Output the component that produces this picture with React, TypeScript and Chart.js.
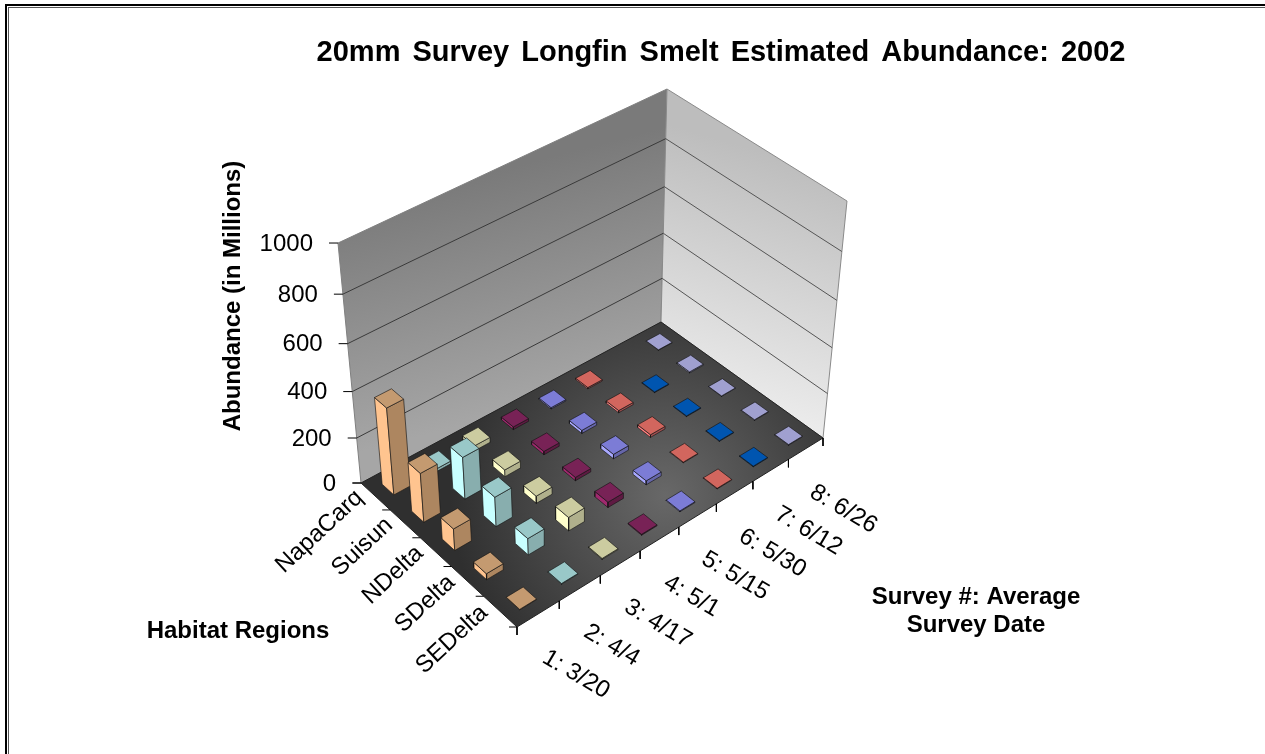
import React, { useEffect, useRef } from "react";
import Chart from "chart.js/auto";

const FONT = "'Liberation Sans', Arial, sans-serif";

const chartTitle = "20mm Survey Longfin Smelt Estimated Abundance: 2002";
const valueAxisTitle = "Abundance (in Millions)";
const regionAxisTitle = "Habitat Regions";
const surveyAxisTitle = ["Survey #: Average", "Survey Date"];

const valueTicks = [0, 200, 400, 600, 800, 1000];
const regions = ["NapaCarq", "Suisun", "NDelta", "SDelta", "SEDelta"];
const surveys = ["1: 3/20", "2: 4/4", "3: 4/17", "4: 5/1", "5: 5/15", "6: 5/30", "7: 6/12", "8: 6/26"];

// values per region, one entry per survey (millions); null = no bar
const napaCarq = [380, 12, 22, 12, 6, 6, null, 2];
const suisun = [215, 185, 30, 15, 14, 10, 3, 5];
const nDelta = [95, 130, 32, 15, 20, 12, 3, 2];
const sDelta = [26, 72, 60, 24, 18, 3, 3, 3];
const seDelta = [2, 3, 4, 4, 4, 3, 3, 3];
const abundance = [napaCarq, suisun, nDelta, sDelta, seDelta];

// [side facing left, top, side facing right]
const surveyColours = [
  ["#FFC48F", "#C49A70", "#AD8660"],
  ["#C8FFFF", "#99C8C8", "#88AEAE"],
  ["#FFFFCC", "#CCCCA0", "#B0B08C"],
  ["#A0296E", "#782256", "#5E1A42"],
  ["#A9A9FF", "#7C7CD6", "#6666AA"],
  ["#FF8080", "#D2665E", "#A05050"],
  ["#0066CC", "#0055B0", "#004488"],
  ["#CCCCFF", "#A0A0D0", "#8080A8"],
];

type P = { x: number; y: number };

// view of the 3D box: floor and ceiling corners on the page
const floorBox: P[] = [{ x: 361, y: 483 }, { x: 661, y: 322 }, { x: 823, y: 438 }, { x: 517, y: 627 }];
const ceilBox: P[] = [{ x: 338, y: 243 }, { x: 667, y: 89 }, { x: 847, y: 201 }, { x: 509, y: 379 }];

function homography(q: P[]) {
  const [p0, p1, p2, p3] = q;
  const dx1 = p1.x - p2.x, dx2 = p3.x - p2.x, sx = p0.x - p1.x + p2.x - p3.x;
  const dy1 = p1.y - p2.y, dy2 = p3.y - p2.y, sy = p0.y - p1.y + p2.y - p3.y;
  const den = dx1 * dy2 - dx2 * dy1;
  const g = (sx * dy2 - dx2 * sy) / den;
  const h = (dx1 * sy - sx * dy1) / den;
  const a = p1.x - p0.x + g * p1.x, b = p3.x - p0.x + h * p3.x;
  const d = p1.y - p0.y + g * p1.y, e = p3.y - p0.y + h * p3.y;
  return (u: number, v: number): P => {
    const w = g * u + h * v + 1;
    return { x: (a * u + b * v + p0.x) / w, y: (d * u + e * v + p0.y) / w };
  };
}
const floorMap = homography(floorBox);
const ceilMap = homography(ceilBox);
const heightFrac = (v: number) => ((v * 0.2215) / (1 - v * 7.7e-5)) / 240;

function project(s: number, r: number, v: number): P {
  const a = floorMap(s, r), b = ceilMap(s, r), t = heightFrac(v);
  return { x: a.x + (b.x - a.x) * t, y: a.y + (b.y - a.y) * t };
}

function poly(pts: P[], fill: any, stroke: string, width = 0.8) {
  return {
    type: "scatter",
    showLine: true,
    fill: "shape",
    tension: 0,
    backgroundColor: fill,
    borderColor: stroke,
    borderWidth: width,
    borderJoinStyle: "round",
    pointRadius: 0,
    pointHoverRadius: 0,
    data: [...pts, pts[0]],
  };
}
function line(pts: P[], stroke: string, width = 1) {
  return {
    type: "scatter",
    showLine: true,
    fill: false,
    tension: 0,
    borderColor: stroke,
    borderWidth: width,
    pointRadius: 0,
    pointHoverRadius: 0,
    data: pts,
  };
}
const linearFill = (x0: number, y0: number, x1: number, y1: number, from: string, to: string) => (c: any) => {
  const g = c.chart.ctx.createLinearGradient(x0, y0, x1, y1);
  g.addColorStop(0, from);
  g.addColorStop(1, to);
  return g;
};
const radialFill = (x: number, y: number, rad: number, from: string, to: string) => (c: any) => {
  const g = c.chart.ctx.createRadialGradient(x, y, 0, x, y, rad);
  g.addColorStop(0, from);
  g.addColorStop(1, to);
  return g;
};

function buildDatasets() {
  const sets: any[] = [];
  const top = valueTicks[valueTicks.length - 1];
  // walls and floor
  sets.push(poly([project(0, 0, 0), project(1, 0, 0), project(1, 0, top), project(0, 0, top)],
    linearFill(500, 170, 560, 400, "#7a7a7a", "#a6a6a6"), "#808080", 1));
  sets.push(poly([project(1, 0, 0), project(1, 1, 0), project(1, 1, top), project(1, 0, top)],
    linearFill(790, 160, 720, 400, "#bdbdbd", "#ebebeb"), "#8a8a8a", 1));
  sets.push(poly([project(0, 0, 0), project(1, 0, 0), project(1, 1, 0), project(0, 1, 0)],
    radialFill(665, 495, 215, "#686868", "#2f2f2f"), "#222222", 1));
  // gridlines
  valueTicks.slice(1, -1).forEach((v) => {
    sets.push(line([project(0, 0, v), project(1, 0, v)], "#3a3a3a", 1));
    sets.push(line([project(1, 0, v), project(1, 1, v)], "#555555", 1));
  });
  // axis ticks
  valueTicks.forEach((v) => {
    const p = project(0, 0, v);
    sets.push(line([p, { x: p.x - 9, y: p.y }], "#000000", 1));
  });
  regions.concat([""]).forEach((_, j) => {
    const p = project(0, j / regions.length, 0);
    sets.push(line([p, { x: p.x - 8, y: p.y }], "#000000", 1));
  });
  surveys.concat([""]).forEach((_, i) => {
    const p = project(i / surveys.length, 1, 0);
    sets.push(line([p, { x: p.x, y: p.y + 8 }], "#000000", 1));
  });
  // bars, far to near
  const wS = 0.4 / surveys.length / 2;
  const wR = 0.4 / regions.length / 2;
  abundance.forEach((row, j) => {
    for (let i = row.length - 1; i >= 0; i--) {
      const v = row[i];
      if (v == null) continue;
      const sc = (i + 0.5) / surveys.length, rc = (j + 0.5) / regions.length;
      const s0 = sc - wS, s1 = sc + wS, r0 = rc - wR, r1 = rc + wR;
      const [left, up, right] = surveyColours[i];
      const edge = "rgba(20,20,20,0.8)";
      sets.push(poly([project(s0, r0, 0), project(s0, r1, 0), project(s0, r1, v), project(s0, r0, v)], left, edge));
      sets.push(poly([project(s0, r1, 0), project(s1, r1, 0), project(s1, r1, v), project(s0, r1, v)], right, edge));
      sets.push(poly([project(s0, r0, v), project(s1, r0, v), project(s1, r1, v), project(s0, r1, v)], up, edge));
    }
  });
  return sets.reverse();
}

const textPlugin = {
  id: "chartText",
  beforeDraw(chart: any) {
    const { ctx, width, height } = chart;
    ctx.save();
    ctx.fillStyle = "#ffffff";
    ctx.fillRect(0, 0, width, height);
    ctx.fillStyle = "#000000";
    ctx.fillRect(5, 4, width - 5, 2);
    ctx.fillRect(5, 4, 2, height - 4);
    ctx.fillStyle = "#555555";
    ctx.fillRect(8, 7, 1, height - 7);
    ctx.fillRect(8, 7, width - 8, 1);
    ctx.restore();
  },
  afterDraw(chart: any) {
    const { ctx, scales } = chart;
    const X = (x: number) => scales.x.getPixelForValue(x);
    const Y = (y: number) => scales.y.getPixelForValue(y);
    const label = (t: string, x: number, y: number, font: string, align: any, rot = 0, wordGap = 0) => {
      ctx.save();
      ctx.translate(X(x), Y(y));
      ctx.rotate((rot * Math.PI) / 180);
      ctx.font = font;
      (ctx as any).wordSpacing = `${wordGap}px`;
      ctx.fillStyle = "#000000";
      ctx.textAlign = align;
      ctx.textBaseline = "middle";
      ctx.fillText(t, 0, 0);
      ctx.restore();
    };
    const tickFont = `24px ${FONT}`;
    const boldFont = `bold 24px ${FONT}`;
    label(chartTitle, 721, 53, `bold 29px ${FONT}`, "center", 0, 4);
    valueTicks.forEach((v) => {
      const p = project(0, 0, v);
      label(String(v), p.x - 25, p.y + 1, tickFont, "right");
    });
    regions.forEach((t, j) => {
      const p = project(0, (j + 0.5) / regions.length, 0);
      label(t, p.x - 16, p.y - 2, tickFont, "right", -43);
    });
    surveys.forEach((t, i) => {
      const p = project((i + 0.5) / surveys.length, 1, 0);
      label(t, p.x + 6, p.y + 42, tickFont, "left", 30.5);
    });
    label(valueAxisTitle, 233, 296, boldFont, "center", -90);
    label(regionAxisTitle, 238, 631, boldFont, "center");
    label(surveyAxisTitle[0], 976, 597, boldFont, "center");
    label(surveyAxisTitle[1], 976, 625, boldFont, "center");
  },
};

export default function App() {
  const ref = useRef<HTMLCanvasElement>(null);
  useEffect(() => {
    const chart = new Chart(ref.current as HTMLCanvasElement, {
      type: "scatter",
      data: { datasets: buildDatasets() as any },
      plugins: [textPlugin],
      options: {
        animation: false,
        responsive: false,
        events: [],
        layout: { padding: 0 },
        plugins: { legend: { display: false }, tooltip: { enabled: false }, title: { display: false } },
        scales: {
          x: { type: "linear", min: 0, max: 1265, display: false },
          y: { type: "linear", min: 0, max: 754, reverse: true, display: false },
        },
      } as any,
    });
    return () => chart.destroy();
  }, []);
  return (
    <div style={{ position: "fixed", left: 0, top: 0, width: 1265, height: 754, background: "#fff" }}>
      <canvas ref={ref} width={1265} height={754} style={{ display: "block" }} />
    </div>
  );
}
